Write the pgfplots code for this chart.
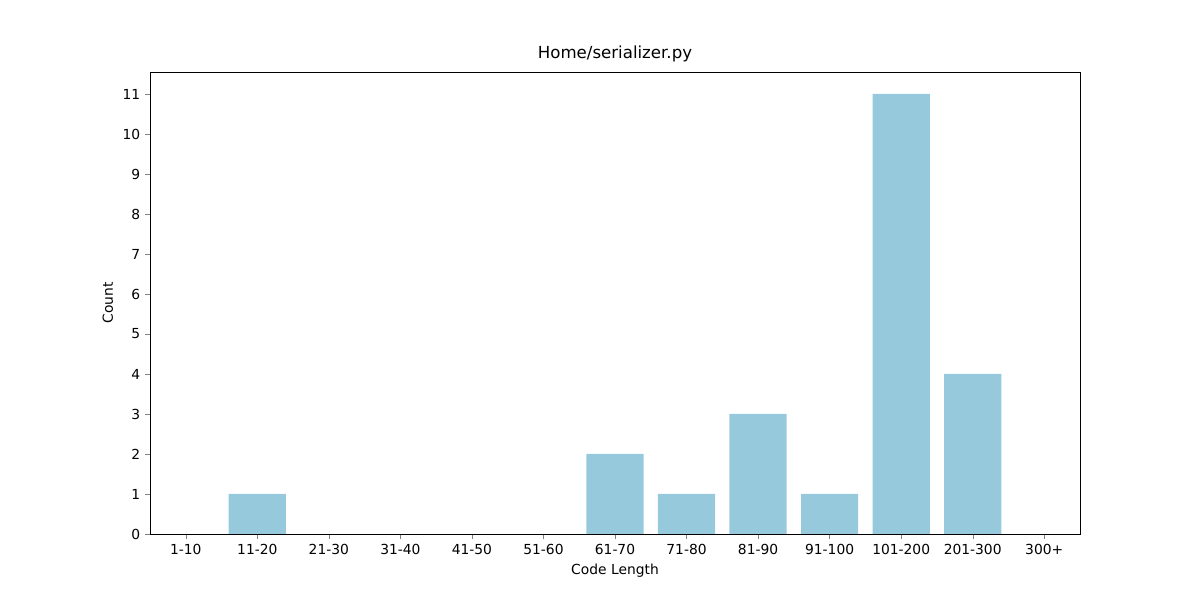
\documentclass[border=0pt]{standalone}
\usepackage{pgfplots}
\pgfplotsset{compat=1.18}
\usepackage{fontspec}
\setmainfont{DejaVu Sans}
\definecolor{barc}{RGB}{150,201,220}
\begin{document}
\begin{tikzpicture}
\useasboundingbox (-1.5in,-0.66in) rectangle (10.5in,5.34in);
\begin{axis}[
  at={(0,0)}, anchor=south west,
  scale only axis, width=9.3in, height=4.62in,
  xmin=-0.5, xmax=12.5, ymin=0, ymax=11.55,
  xtick={0,...,12},
  xticklabels={1-10,11-20,21-30,31-40,41-50,51-60,61-70,71-80,81-90,91-100,101-200,201-300,300+},
  ytick={0,...,11},
  tick align=outside, tick pos=left,
  major tick length=3.5pt,
  /pgf/number format/assume math mode=true,
  tick label style={font=\fontsize{10}{12}\selectfont},
  label style={font=\fontsize{10}{12}\selectfont},
  title style={font=\fontsize{12}{14}\selectfont, yshift=-2pt},
  title={Home/serializer.py},
  xlabel={Code Length}, ylabel={Count},
  ybar, bar width=0.8, bar shift=0pt,
]
\addplot[fill=barc, draw=none] coordinates {(0,0)(1,1)(2,0)(3,0)(4,0)(5,0)(6,2)(7,1)(8,3)(9,1)(10,11)(11,4)(12,0)};
\end{axis}
\end{tikzpicture}
\end{document}
